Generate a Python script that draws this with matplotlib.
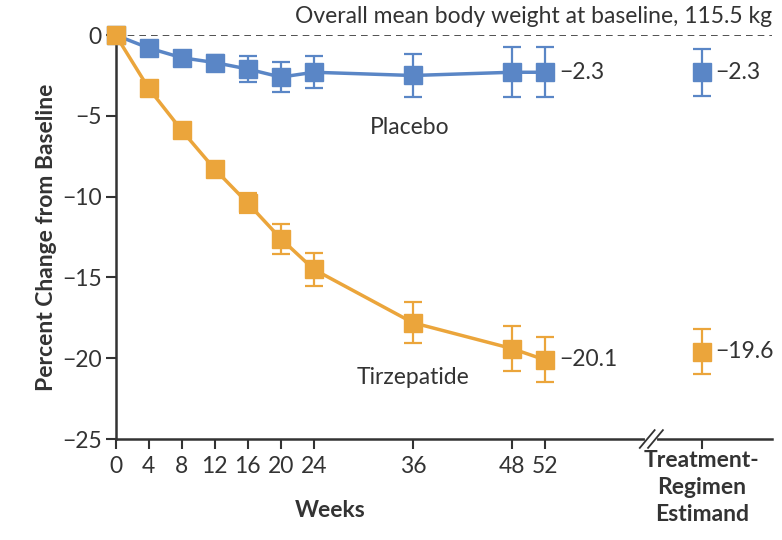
import matplotlib
matplotlib.use("Agg")
import matplotlib.pyplot as plt
from matplotlib.lines import Line2D

plt.rcParams['font.family'] = ['Lato', 'DejaVu Sans']

# data
weeks = [0, 4, 8, 12, 16, 20, 24, 36, 48, 52]
placebo = [0, -0.8, -1.4, -1.7, -2.1, -2.6, -2.3, -2.5, -2.3, -2.3]
placebo_err = [0, 0.25, 0.3, 0.45, 0.8, 0.93, 1.0, 1.33, 1.55, 1.55]
tirz = [0, -3.3, -5.9, -8.3, -10.4, -12.6, -14.5, -17.8, -19.4, -20.1]
tirz_err = [0, 0.25, 0.3, 0.35, 0.6, 0.93, 1.0, 1.27, 1.4, 1.4]

estimand_x = 71
placebo_est = -2.3
placebo_est_err = 1.45
tirz_est = -19.6
tirz_est_err = 1.4

blue = '#5A86C6'
orange = '#EBA53B'
dark = '#333333'
fs = 16.5

fig = plt.figure(figsize=(7.82, 5.40), dpi=100)
ax = fig.add_axes([0.148, 0.187, 0.839, 0.748])

def draw(x, y, err, col):
    ax.errorbar(x, y, yerr=err, color=col, lw=2.5, marker='s', ms=13,
                elinewidth=1.6, capsize=6.5, capthick=1.6, clip_on=False, zorder=3)

draw(weeks, placebo, placebo_err, blue)
draw(weeks, tirz, tirz_err, orange)
draw([estimand_x], [placebo_est], [placebo_est_err], blue)
draw([estimand_x], [tirz_est], [tirz_est_err], orange)

ax.axhline(0, color=dark, lw=1.2, ls=(0, (4, 3)), zorder=1)

ax.set_xlim(0, 79.5)
ax.set_ylim(-25, 0)
ax.set_yticks([0, -5, -10, -15, -20, -25])
ax.set_yticklabels(['0', '\u22125', '\u221210', '\u221215', '\u221220', '\u221225'])
ax.set_xticks(weeks + [estimand_x])
ax.set_xticklabels([str(w) for w in weeks] + [''])
ax.tick_params(colors=dark, labelsize=fs, width=1.5, length=7, direction='out')
ax.tick_params(axis='x', pad=5)
ax.tick_params(axis='y', pad=3)

for s in ['top', 'right']:
    ax.spines[s].set_visible(False)
for s in ['left', 'bottom']:
    ax.spines[s].set_color(dark)
    ax.spines[s].set_linewidth(1.8)

ax.set_ylabel('Percent Change from Baseline', fontsize=fs, fontweight='bold',
              color=dark, labelpad=4)
ax.text(26, -29.4, 'Weeks', ha='center', va='center', fontsize=fs,
        fontweight='bold', color=dark)
ax.text(estimand_x, -25.7, 'Treatment-\nRegimen\nEstimand', ha='center', va='top',
        fontsize=fs, fontweight='bold', color=dark, linespacing=1.35)

ax.text(79.5, 0.5, 'Overall mean body weight at baseline, 115.5 kg', ha='right',
        va='bottom', fontsize=fs, color=dark)
ax.text(35.6, -5.7, 'Placebo', ha='center', va='center', fontsize=fs, color=dark)
ax.text(36, -21.2, 'Tirzepatide', ha='center', va='center', fontsize=fs, color=dark)

for x, v in [(weeks[-1], placebo[-1]), (weeks[-1], tirz[-1]),
             (estimand_x, placebo_est), (estimand_x, tirz_est)]:
    ax.annotate('\u2212' + f'{abs(v):.1f}', (x, v), xytext=(10, 0),
                textcoords='offset points', ha='left', va='center',
                fontsize=fs, color=dark)

# axis break marks
bx = 64.8
ax.add_line(Line2D([bx - 0.4, bx + 0.6], [-25, -25], color='white', lw=3,
                   clip_on=False, zorder=4))
for dx in (-0.4, 0.6):
    ax.add_line(Line2D([bx + dx - 0.9, bx + dx + 0.9], [-25.55, -24.45],
                       color=dark, lw=1.3, clip_on=False, zorder=5))

fig.savefig('out.png', dpi=100)
